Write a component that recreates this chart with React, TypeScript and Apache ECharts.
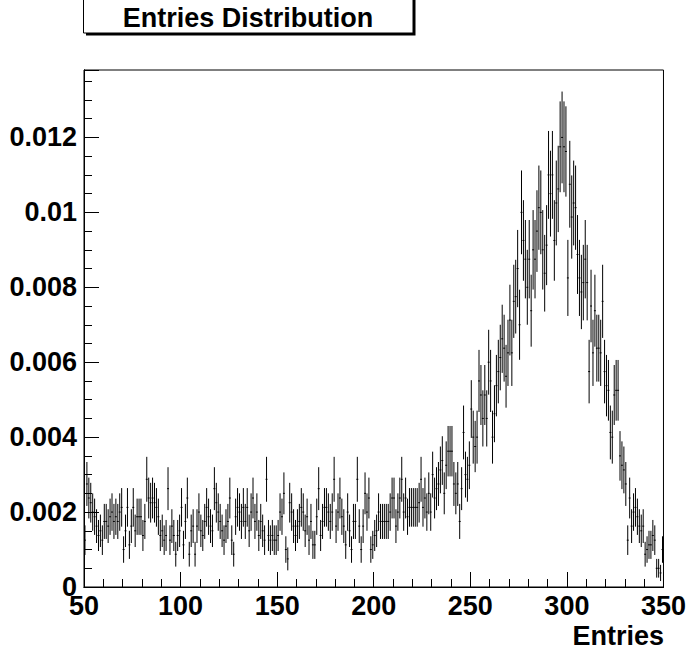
import React, { useEffect, useRef } from "react";
import * as echarts from "echarts";

// Histogram: 300 bins of width 1 from 50 to 350 (lower edges), raw counts
const binStart = 50;
const binWidth = 1;
const counts = [
  // 50-59
  10, 22, 19, 18, 16, 15, 13, 11, 12, 10,
  // 60-69
  14, 14, 13, 15, 16, 14, 15, 14, 16, 17,
  // 70-79
  8, 12, 17, 9, 13, 17, 12, 15, 15, 15,
  // 80-89
  11, 14, 23, 19, 18, 19, 18, 17, 15, 11,
  // 90-99
  12, 10, 11, 21, 10, 13, 11, 7, 11, 12,
  // 100-109
  17, 9, 14, 19, 7, 12, 13, 7, 13, 16,
  // 110-119
  12, 11, 14, 17, 15, 13, 12, 21, 18, 16,
  // 120-129
  14, 12, 10, 13, 14, 19, 10, 7, 15, 17,
  // 130-139
  16, 14, 17, 14, 17, 12, 16, 19, 14, 16,
  // 140-149
  11, 14, 12, 10, 23, 11, 10, 11, 10, 10,
  // 150-159
  11, 16, 15, 20, 8, 6, 18, 16, 13, 11,
  // 160-169
  13, 14, 17, 16, 12, 15, 10, 14, 9, 9,
  // 170-179
  15, 21, 11, 14, 17, 17, 16, 14, 16, 23,
  // 180-189
  13, 16, 19, 15, 13, 9, 16, 12, 8, 14,
  // 190-199
  14, 23, 13, 8, 13, 20, 16, 19, 8, 9,
  // 200-209
  11, 12, 16, 14, 14, 14, 14, 14, 16, 19,
  // 210-219
  19, 13, 16, 19, 23, 16, 19, 15, 17, 17,
  // 220-229
  17, 17, 17, 18, 23, 17, 19, 16, 20, 16,
  // 230-239
  24, 19, 21, 22, 25, 27, 20, 26, 29, 29,
  // 240-249
  29, 22, 20, 22, 14, 21, 33, 24, 23, 26,
  // 250-259
  38, 32, 30, 32, 44, 41, 36, 41, 36, 48,
  // 260-269
  44, 32, 37, 43, 46, 49, 53, 51, 45, 50,
  // 270-279
  57, 50, 61, 62, 68, 56, 80, 74, 70, 64,
  // 280-289
  70, 59, 72, 70, 76, 81, 80, 72, 67, 73,
  // 290-299
  88, 84, 88, 74, 82, 85, 94, 96, 94, 93,
  // 300-309
  66, 86, 79, 82, 81, 71, 66, 63, 65, 70,
  // 310-319
  65, 46, 60, 50, 59, 51, 51, 50, 61, 46,
  // 320-329
  43, 42, 33, 32, 41, 42, 42, 28, 26, 25,
  // 330-339
  22, 10, 19, 13, 16, 17, 15, 13, 12, 13,
  // 340-349
  7, 8, 9, 9, 11, 10, 4, 4, 3, 8,
];
// normalisation (total entries)
const normalisation = 8000;

const titleText = "Entries Distribution";
const xAxisTitle = "Entries";
const xRange = [50, 350];
const yRange = [0, 0.0138];
const xMajor = 50;
const xMinor = 10;
const yMajor = 0.002;
const yMinor = 0.0005;

const FONT = "'Liberation Sans', Arial, Helvetica, sans-serif";

export default function App() {
  const ref = useRef<HTMLDivElement>(null);
  useEffect(() => {
    document.body.style.margin = "0";
    if (!ref.current) return;
    const chart = echarts.init(ref.current, undefined, { renderer: "svg" });
    const data = counts.map((c, i) => [
      binStart + (i + 0.5) * binWidth,
      c / normalisation,
      Math.sqrt(c) / normalisation,
    ]);
    const labelStyle = {
      color: "#000",
      fontFamily: FONT,
      fontWeight: "bold" as const,
      fontSize: 27,
    };
    const lineStyle = { color: "#000", width: 1 };
    chart.setOption({
      animation: false,
      backgroundColor: "#fff",
      grid: {
        left: 84,
        right: 24,
        top: 70,
        bottom: 69,
        show: true,
        borderColor: "#000",
        borderWidth: 1,
        backgroundColor: "transparent",
      },
      xAxis: [
        {
          type: "value",
          min: xRange[0],
          max: xRange[1],
          interval: xMinor,
          position: "bottom",
          axisLine: { show: true, onZero: false, lineStyle },
          axisTick: { show: true, inside: true, length: 8, lineStyle },
          axisLabel: { show: false },
          splitLine: { show: false },
        },
        {
          type: "value",
          min: xRange[0],
          max: xRange[1],
          interval: xMajor,
          position: "bottom",
          axisLine: { show: true, onZero: false, lineStyle },
          axisTick: { show: true, inside: true, length: 15, lineStyle },
          axisLabel: { show: true, margin: 5, ...labelStyle },
          splitLine: { show: false },
        },
      ],
      yAxis: [
        {
          type: "value",
          min: yRange[0],
          max: yRange[1],
          interval: yMinor,
          position: "left",
          axisLine: { show: true, onZero: false, lineStyle },
          axisTick: { show: true, inside: true, length: 8, lineStyle },
          axisLabel: { show: false },
          splitLine: { show: false },
        },
        {
          type: "value",
          min: yRange[0],
          max: yRange[1],
          interval: yMajor,
          position: "left",
          axisLine: { show: true, onZero: false, lineStyle },
          axisTick: { show: true, inside: true, length: 15, lineStyle },
          axisLabel: {
            show: true,
            margin: 7,
            ...labelStyle,
            formatter: (v: number) => {
              const k = v / yMajor;
              if (Math.abs(k - Math.round(k)) > 1e-6) return "";
              if (v === 0) return "0";
              return String(parseFloat(v.toFixed(4)));
            },
          },
          splitLine: { show: false },
        },
      ],
      series: [
        {
          type: "custom",
          xAxisIndex: 0,
          yAxisIndex: 0,
          clip: true,
          data,
          renderItem: (params: any, api: any) => {
            const x = api.value(0);
            const v = api.value(1);
            const e = api.value(2);
            const top = api.coord([x, v + e]);
            const bot = api.coord([x, Math.max(v - e, 0)]);
            const l = api.coord([x - binWidth / 2, v]);
            const r = api.coord([x + binWidth / 2, v]);
            return {
              type: "group",
              children: [
                {
                  type: "line",
                  shape: { x1: top[0], y1: top[1], x2: bot[0], y2: bot[1] },
                  style: { stroke: "#000", lineWidth: 1 },
                },
                {
                  type: "line",
                  shape: { x1: l[0], y1: l[1], x2: r[0], y2: r[1] },
                  style: { stroke: "#000", lineWidth: 1 },
                },
              ],
            };
          },
        },
      ],
      graphic: [
        {
          type: "rect",
          shape: { x: 86, y: -7, width: 329.5, height: 42.5 },
          style: { fill: "#000" },
          silent: true,
        },
        {
          type: "rect",
          shape: { x: 83.5, y: -10, width: 329.5, height: 43 },
          style: { fill: "#fff", stroke: "#000", lineWidth: 1 },
          silent: true,
        },
        {
          type: "text",
          x: 248,
          y: 18,
          style: {
            text: titleText,
            fill: "#000",
            font: `bold 27px ${FONT}`,
            textAlign: "center",
            textVerticalAlign: "middle",
          },
          silent: true,
        },
        {
          type: "text",
          x: 664,
          y: 636,
          style: {
            text: xAxisTitle,
            fill: "#000",
            font: `bold 27px ${FONT}`,
            textAlign: "right",
            textVerticalAlign: "middle",
          },
          silent: true,
        },
      ],
    });
    return () => chart.dispose();
  }, []);
  return <div ref={ref} style={{ width: 689, height: 656 }} />;
}
